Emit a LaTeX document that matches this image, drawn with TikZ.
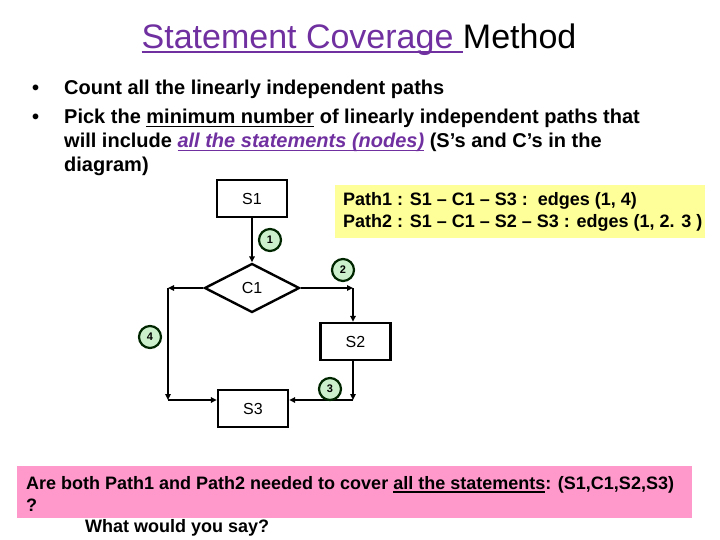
\documentclass[tikz,border=0pt]{standalone}
\usepackage{fontspec}
\setmainfont{Liberation Sans}
\usetikzlibrary{shapes.geometric,arrows.meta}
\definecolor{titlepurple}{RGB}{112,48,160}
\definecolor{notegreen}{RGB}{204,240,204}
\definecolor{noteyellow}{RGB}{255,255,153}
\definecolor{notepink}{RGB}{255,153,204}
\newcommand{\ulbox}[3]{\leavevmode\setbox0=\hbox{#3}\rlap{\rule[-#1]{\wd0}{#2}}\box0\relax}
\begin{document}
\begin{tikzpicture}[x=1pt,y=-1pt,
  stmt/.style={draw,line width=2.4pt,minimum width=70pt,minimum height=37pt,inner sep=0pt,font=\fontsize{16}{18}\selectfont},
  cond/.style={draw,diamond,line width=2.4pt,minimum width=95pt,minimum height=49pt,aspect=1.94,inner sep=0pt,font=\fontsize{16}{18}\selectfont},
  edgenum/.style={circle,draw=black!85!green,fill=notegreen,line width=2.2pt,minimum size=22pt,inner sep=0pt,font=\bfseries\fontsize{11}{12}\selectfont},
  flow/.style={line width=2.2pt,-{Triangle[length=6pt,width=5.5pt]}},
  bul/.style={anchor=base west,inner sep=0pt,font=\bfseries\fontsize{20}{24}\selectfont},
  txt/.style={anchor=base west,inner sep=0pt,font=\bfseries\fontsize{18}{22}\selectfont}]
\useasboundingbox (0,0) rectangle (720,540);
% title
\node[anchor=base,inner sep=0pt,font=\fontsize{34}{38}\selectfont] (title) at (359,49)
  {\textcolor{titlepurple}{\ulbox{4.5pt}{2pt}{Statement Coverage }}Method};
% bullets
\node[bul] (b1) at (32,95) {•};
\node[bul] (t1) at (64,95) {Count all the linearly independent paths};
\node[bul] (b2) at (32,124) {•};
\node[bul] (t2) at (64,124) {Pick the \ulbox{3.5pt}{1.4pt}{minimum number} of linearly independent paths that};
\node[bul] (t3) at (64,148) {will include \textcolor{titlepurple}{\ulbox{3.5pt}{1.4pt}{\itshape all the statements (nodes)}} (S’s and C’s in the};
\node[bul] (t4) at (64,172) {diagram)};
% yellow note
\node[anchor=north west,fill=noteyellow,minimum width=370pt,minimum height=53pt,inner sep=0pt] (ynote) at (335,185) {};
\node[txt] (p1) at (343,206) {Path1 : S1 – C1 – S3 :\ \ edges (1, 4)};
\node[txt] (p2) at (343,228) {Path2 : S1 – C1 – S2 – S3 : edges (1, 2. 3 )};
% flowchart
\node[stmt] (S1) at (252,198.5) {S1};
\node[cond] (C1) at (252,288) {C1};
\node[stmt] (S2) at (355.5,341.5) {S2};
\node[stmt] (S3) at (253,408.5) {S3};
\coordinate (L1) at (168,288);
\coordinate (L2) at (168,400);
\coordinate (R1) at (353,288);
\coordinate (R2) at (353,400);
\draw[flow] (S1.south) -- (C1.north);
\draw[flow] (C1.west) -- (L1);
\draw[flow] (L1) -- (L2);
\draw[flow] (L2) -- (L2 -| S3.west);
\draw[flow] (C1.east) -- (R1);
\draw[flow] (R1) -- (R1 |- S2.north);
\draw[flow] (R1 |- S2.south) -- (R2);
\draw[flow] (R2) -- (R2 -| S3.east);
\node[edgenum] (n1) at (270,240) {1};
\node[edgenum] (n2) at (343,270) {2};
\node[edgenum] (n4) at (150,337) {4};
\node[edgenum] (n3) at (330,389) {3};
% pink note
\node[anchor=north west,fill=notepink,minimum width=675pt,minimum height=52pt,inner sep=0pt] (pnote) at (17,466) {};
\node[txt] (q1) at (26,489) {Are both Path1 and Path2 needed to cover \ulbox{3.5pt}{1.3pt}{all the statements}: (S1,C1,S2,S3)};
\node[txt] (q2) at (26,511) {?};
\node[txt] (q3) at (85,532) {What would you say?};
\end{tikzpicture}
\end{document}
